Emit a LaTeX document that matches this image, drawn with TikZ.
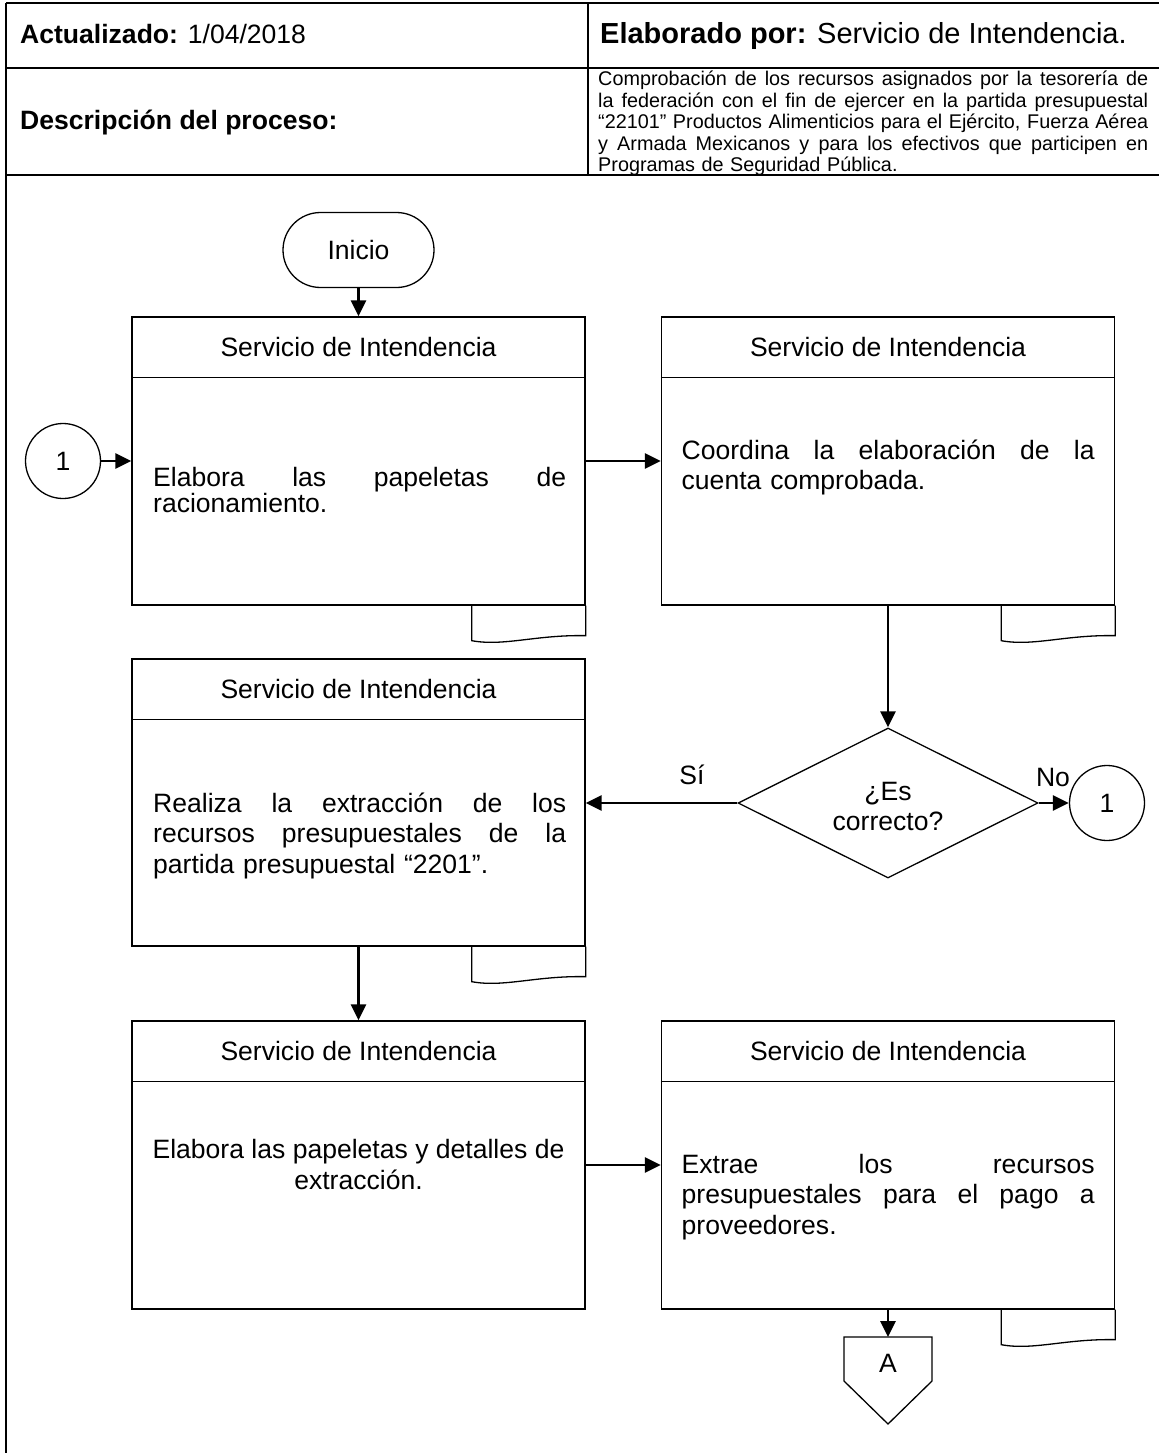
\documentclass[tikz,border=0pt]{standalone}
\usepackage{fontspec}
\setmainfont{Liberation Sans}
\usetikzlibrary{arrows.meta,calc,shapes.geometric}
\newcommand\fsA{\fontsize{26.55}{30.5}\selectfont}
\newcommand\fsB{\fontsize{26.55}{26}\selectfont}
\newcommand\fsC{\fontsize{19.8}{21.5}\selectfont}
\newcommand\jl[1]{\makebox[413pt][s]{\spaceskip=\fontdimen2\font plus 1fil\relax #1}}
\newcommand\jd[1]{\makebox[550pt][s]{\spaceskip=\fontdimen2\font plus 1fil\relax #1}}
\newcommand\doctab[1]{%
  \draw[shp] ($(#1.south east)+(-114,0)$) -- ($(#1.south east)+(-114,35)$)
    .. controls ($(#1.south east)+(-82,41)$) and ($(#1.south east)+(-50,29)$) ..
    ($(#1.south east)+(0,30)$) -- (#1.south east);}
\hyphenpenalty=10000
\tolerance=10000
\tikzset{
  frame/.style={line width=1.6pt},
  shp/.style={draw, line width=1.3pt},
  flow/.style={line width=2.8pt, -{Triangle[length=16pt,width=15pt]}},
  txt/.style={inner sep=0pt, font=\fsA},
  procbox/.style={shp, minimum width=453pt, minimum height=288pt, inner sep=0pt},
  body/.style={inner sep=0pt, text width=420pt, anchor=base west, align=left},
}
\begin{document}
\begin{tikzpicture}[x=1pt,y=-1pt]
\useasboundingbox (0,0) rectangle (1159,1453);
\fill[white] (0,0) rectangle (1159,1453);
% header table
\draw[frame] (6,3) -- (1159,3);
\draw[frame] (6,68) -- (1159,68);
\draw[frame] (6,175) -- (1159,175);
\draw[frame] (6,3) -- (6,1453);
\draw[frame] (588,3) -- (588,175);
\node[txt, anchor=base west] (act) at (20,44) {\textbf{Actualizado:} 1/04/2018};
\node[txt, anchor=base west, font=\fontsize{29}{33}\selectfont] (ela) at (600,44) {\textbf{Elaborado por:} Servicio de Intendencia.};
\node[txt, anchor=base west] (dp) at (20,130) {\textbf{Descripción del proceso:}};
\node[inner sep=0pt, anchor=base west, text width=560pt, align=left, font=\fsC] (desc) at (598,86)
  {\jd{Comprobación de los recursos asignados por la tesorería de}\\
   \jd{la federación con el fin de ejercer en la partida presupuestal}\\
   \jd{“22101” Productos Alimenticios para el Ejército, Fuerza Aérea}\\
   \jd{y Armada Mexicanos y para los efectivos que participen en}\\
   Programas de Seguridad Pública.};
% start
\node[shp, rounded corners=37.5pt, minimum width=151pt, minimum height=75pt, font=\fsA] (ini) at (358.5,250) {Inicio};
% boxes
\node[procbox] (b1) at (358.5,461) {};
\node[procbox] (b2) at (888,461) {};
\node[procbox, minimum height=287pt] (b3) at (358.5,802.5) {};
\node[procbox] (b4) at (358.5,1165) {};
\node[procbox] (b5) at (888,1165) {};
\foreach \b in {b1,b2,b3,b4,b5}{
  \draw[shp] ($(\b.north west)+(0,61)$) -- ($(\b.north east)+(0,61)$);
  \node[txt] (h\b) at ($(\b.north)+(0,30.5)$) {Servicio de Intendencia};
}
\doctab{b1}
\doctab{b2}
\doctab{b3}
\doctab{b5}
\node[body, font=\fsB] (t1) at (153,486) {\jl{Elabora las papeletas de}\\racionamiento.};
\node[body, font=\fsA] (t2) at (681.5,459) {\jl{Coordina la elaboración de la}\\cuenta comprobada.};
\node[body, font=\fsA] (t3) at (153,812) {\jl{Realiza la extracción de los}\\\jl{recursos presupuestales de la}\\partida presupuestal “2201”.};
\node[txt, align=center, anchor=base] (t4) at (358.5,1189) {Elabora las papeletas y detalles de\\extracción.};
\node[body, font=\fsA] (t5) at (681.5,1173) {\jl{Extrae los recursos}\\\jl{presupuestales para el pago a}\\proveedores.};
% connectors
\node[shp, circle, minimum size=75pt, inner sep=0pt, font=\fsA] (c1) at (63,461) {1};
\node[shp, circle, minimum size=75pt, inner sep=0pt, font=\fsA] (c2) at (1107,803) {1};
\node[shp, diamond, minimum width=300pt, minimum height=150pt, inner sep=0pt, aspect=2, align=center,
      font=\fontsize{26.55}{29}\selectfont] (d) at (888,803) {};
\node[txt, align=center, font=\fontsize{26.55}{30}\selectfont] (dq) at (888,806) {¿Es\\correcto?};
\node[txt] (si) at (692,775) {Sí};
\node[txt] (no) at (1053,777) {No};
% off-page connector
\draw[shp] (844,1337) -- (932,1337) -- (932,1381) -- (888,1424) -- (844,1381) -- cycle;
\node[txt] (A) at (888,1363) {A};
\coordinate (Atop) at (888,1337);
% flows
\draw[flow] (ini) -- (b1);
\draw[flow] (c1) -- (b1);
\draw[flow] (b1) -- (b2);
\draw[flow] (b2) -- (d);
\draw[flow] (d.west) -- (d.west -| b3.east);
\draw[flow] (d) -- (c2);
\draw[flow] (b3) -- (b4);
\draw[flow] (b4) -- (b5);
\draw[flow] (b5) -- (Atop);
\end{tikzpicture}
\end{document}
